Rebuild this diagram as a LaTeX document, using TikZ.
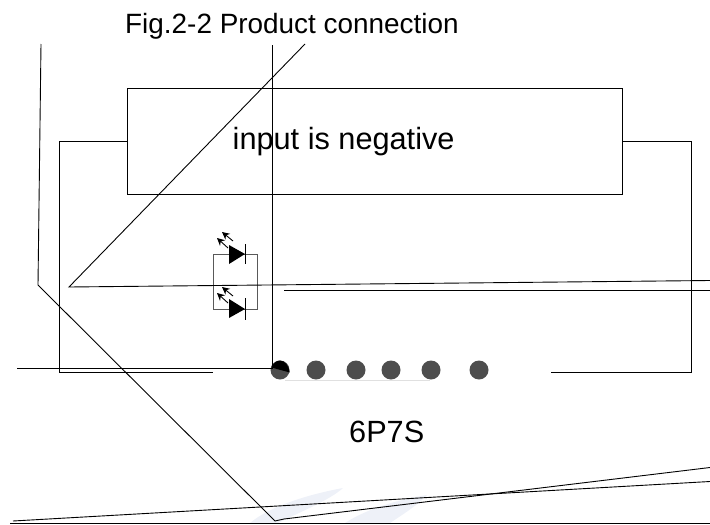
\documentclass[tikz,border=0pt]{standalone}
\usepackage{fontspec}
\setmainfont{Liberation Sans}
\usetikzlibrary{arrows.meta}
\definecolor{pincol}{HTML}{4D4D4D}
\definecolor{wmark}{HTML}{EEF1F8}
\tikzset{
  px/.style={x=1pt,y=-1pt},
  wire/.style={draw=black,line width=0.9pt},
  graywire/.style={draw=black!65,line width=1pt},
  textlabel/.style={inner sep=0pt,anchor=base west,text=black},
  pin/.style={circle,fill=pincol,draw=none,minimum size=19pt,inner sep=0pt},
  ledhead/.style={fill=black,draw=none},
  ledarrow/.style={draw=black,line width=0.9pt,-{Stealth[length=7.5pt,width=7.5pt]}},
}
\begin{document}
\begin{tikzpicture}[px]
\useasboundingbox (0,0) rectangle (710,525);
% faint watermark
\fill[wmark] (343,488) .. controls (310,494) and (270,506) .. (250,523) -- (278,523) .. controls (300,512) and (330,500) .. (343,488) -- cycle;
\fill[wmark] (427,495) .. controls (395,500) and (365,510) .. (345,523) -- (390,523) .. controls (402,515) and (418,505) .. (427,495) -- cycle;
\draw[black!12,line width=1pt] (285,380) -- (430,380);
% outer frame
\node[draw=black,line width=0.9pt,minimum width=495pt,minimum height=106pt,inner sep=0pt,anchor=north west] (box) at (127,88) {};
\coordinate (lt) at (59,141);
\coordinate (lb) at (59,372);
\coordinate (le) at (213,372);
\coordinate (rt) at (691,141);
\coordinate (rb) at (691,372);
\coordinate (re) at (551,372);
\draw[wire] (box.west |- lt) -- (lt) -- (lb) -- (le);
\draw[wire] (box.east |- rt) -- (rt) -- (rb) -- (re);
% pins
\node[pin] (p1) at (280,370) {};
\node[pin] (p2) at (316,370) {};
\node[pin] (p3) at (356,370) {};
\node[pin] (p4) at (391,370) {};
\node[pin] (p5) at (431,370) {};
\node[pin] (p6) at (479,370) {};
\fill[black] (271.5,367.5) .. controls (273,363) and (277,360.5) .. (280,360.5) .. controls (285,360.5) and (289,366) .. (289.8,372.5) -- cycle;
% LED pair
\coordinate (la) at (213,254);
\coordinate (lc) at (257,309);
\draw[graywire] (la) rectangle (lc);
\fill[ledhead] (229,245) -- (245,254) -- (229,264) -- cycle;
\draw[wire] (245.5,244) -- (245.5,264);
\fill[ledhead] (229,299) -- (245,309) -- (229,318) -- cycle;
\draw[wire] (245.5,298) -- (245.5,320);
\draw[ledarrow] (233,241) -- (222,232);
\draw[ledarrow] (228,248) -- (217,238);
\draw[ledarrow] (233,296) -- (222,287);
\draw[ledarrow] (228,303) -- (217,293);
% stray leader lines
\coordinate (a1) at (272,45);
\coordinate (a2) at (272,368);
\coordinate (a3) at (17,368);
\draw[wire] (a1) -- (a2) -- (a3);
\coordinate (b1) at (305,44);
\coordinate (b2) at (69,287);
\coordinate (b3) at (710,280.5);
\draw[wire] (b1) -- (b2) -- (b3);
\coordinate (c1) at (284,290);
\coordinate (c2) at (710,290);
\draw[wire] (c1) -- (c2);
\coordinate (d1) at (41,44);
\coordinate (d2) at (38,285);
\coordinate (d3) at (275,521);
\coordinate (d4) at (284,519);
\coordinate (d5) at (710,467.5);
\draw[wire] (d1) -- (d2) -- (d3) -- (d4) -- (d5);
\coordinate (e1) at (13,521);
\coordinate (e2) at (710,481.5);
\draw[wire] (e1) -- (e2);
\coordinate (f1) at (10,523);
\coordinate (f2) at (710,523);
\draw[wire] (f1) -- (f2);
% labels
\node[textlabel,font=\fontsize{27.9}{32}\selectfont] (title) at (125,33) {Fig.2-2 Product connection};
\node[textlabel,font=\fontsize{30.7}{36}\selectfont] (inp) at (232.5,149) {input is negative};
\node[textlabel,font=\fontsize{30.7}{36}\selectfont] (name) at (349,442) {6P7S};
\end{tikzpicture}
\end{document}
